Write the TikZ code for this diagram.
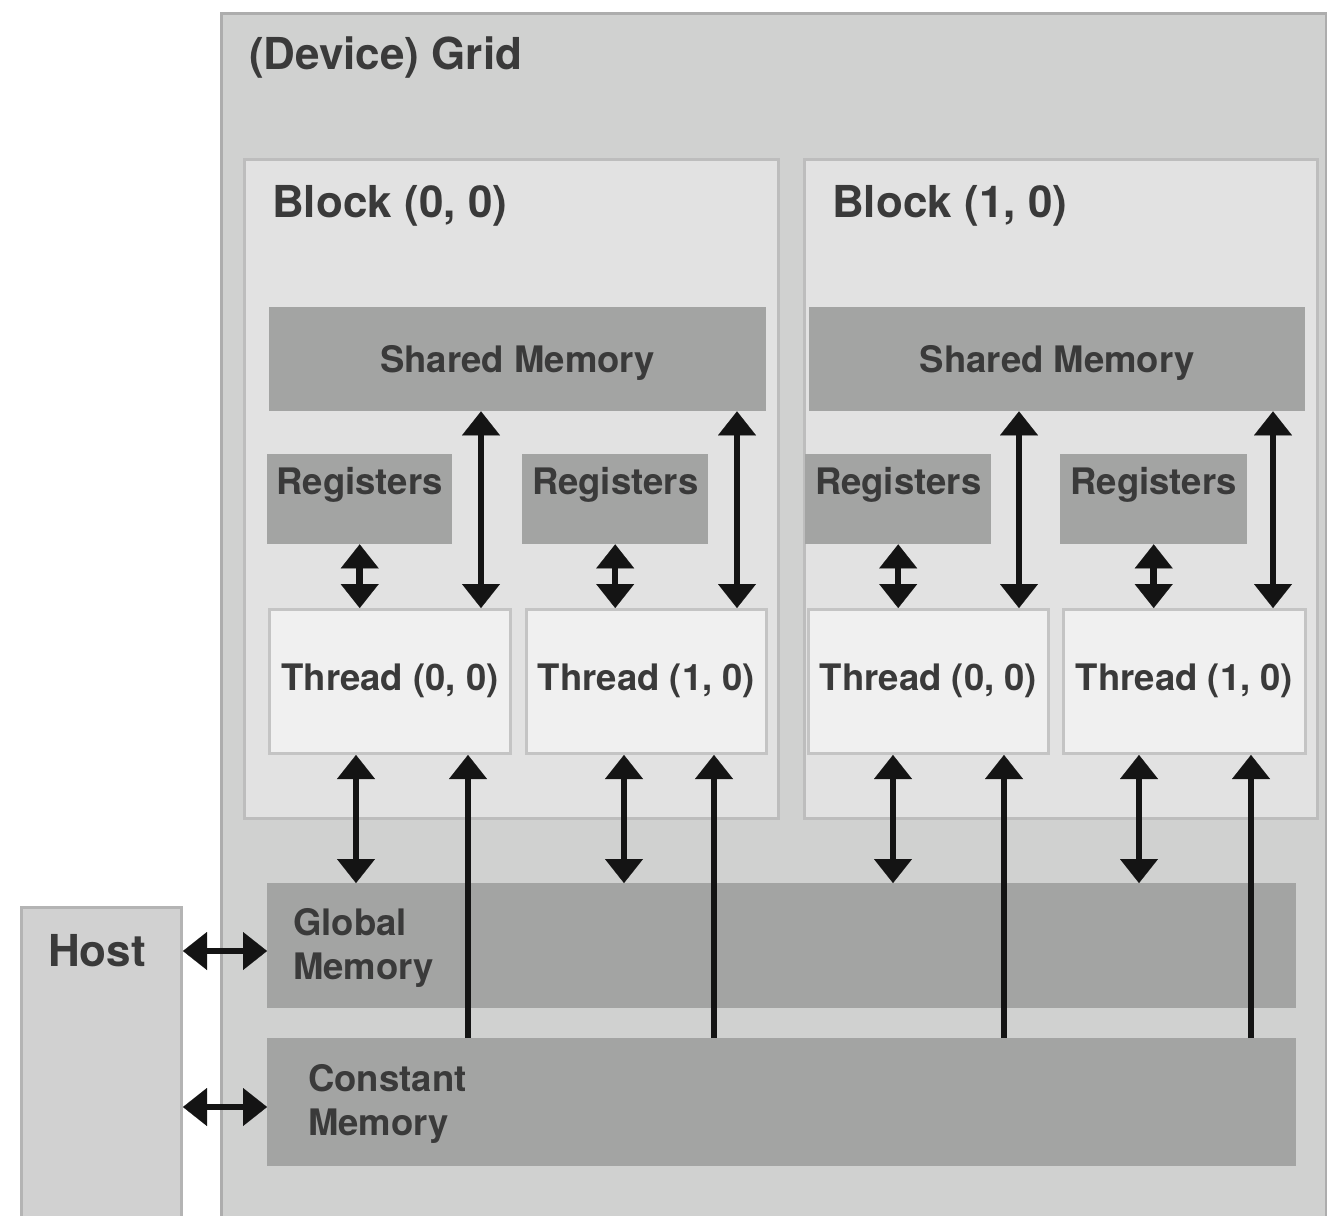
\documentclass[tikz,border=0pt]{standalone}
\usepackage{fontspec}
\setmainfont{TeX Gyre Heros}
\usetikzlibrary{arrows.meta,calc}
\definecolor{gridfill}{HTML}{D0D1D0}
\definecolor{gridline}{HTML}{ADADAD}
\definecolor{blockfill}{HTML}{E2E2E2}
\definecolor{blockline}{HTML}{BDBDBD}
\definecolor{memfill}{HTML}{A3A4A3}
\definecolor{thrfill}{HTML}{F0F0F0}
\definecolor{thrline}{HTML}{C4C4C4}
\definecolor{hostfill}{HTML}{D1D1D1}
\definecolor{hostline}{HTML}{B4B4B4}
\definecolor{txt}{HTML}{3A3A3A}
\definecolor{arrc}{HTML}{141414}
\begin{document}
\begin{tikzpicture}[x=1pt,y=-1pt,
  box/.style={rectangle, inner sep=0pt, anchor=north west},
  gridbox/.style={box, fill=gridfill, draw=gridline, line width=3pt},
  blockbox/.style={box, fill=blockfill, draw=blockline, line width=3pt},
  membox/.style={box, fill=memfill},
  thrbox/.style={box, fill=thrfill, draw=thrline, line width=3pt},
  hostbox/.style={box, fill=hostfill, draw=hostline, line width=3pt},
  big/.style={text=txt, inner sep=0pt, font=\fontsize{44}{53}\selectfont\bfseries},
  mid/.style={text=txt, inner sep=0pt, font=\fontsize{36.5}{45}\selectfont\bfseries},
  tipk/.style={Triangle[length=24pt,width=38pt,line width=0.1pt]},
  dbl/.style={draw=arrc, line width=6.5pt, {Triangle[length=24pt,width=38pt,line width=0.1pt]}-{Triangle[length=24pt,width=38pt,line width=0.1pt]}},
  sgl/.style={draw=arrc, line width=6.5pt, -{Triangle[length=24pt,width=38pt,line width=0.1pt]}}
]
\useasboundingbox (0,0) rectangle (1327,1215);
\fill[white] (0,0) rectangle (1327,1215);

% Grid and host
\node[gridbox, minimum width=1105pt, minimum height=1240pt] (grid) at (220,12) {};
\node[big, anchor=base west] (gridlbl) at (249,70) {(Device) Grid};
\node[hostbox, minimum width=160pt, minimum height=340pt] (host) at (20,906) {};
\node[big, anchor=base west] (hostlbl) at (48,966) {Host};

% Blocks
\node[blockbox, minimum width=534pt, minimum height=659pt] (blk0) at (243,158) {};
\node[blockbox, minimum width=513pt, minimum height=659pt] (blk1) at (803,158) {};
\node[big, anchor=base west] (blk0lbl) at (272,217) {Block (0, 0)};
\node[big, anchor=base west] (blk1lbl) at (832,217) {Block (1, 0)};

% Shared memory
\node[membox, minimum width=497pt, minimum height=104pt, mid] (sh0) at (269,307) {};
\node[membox, minimum width=496pt, minimum height=104pt, mid] (sh1) at (809,307) {};
\node[mid, anchor=base] (sh0lbl) at ($(sh0.north)+(0,65)$) {Shared Memory};
\node[mid, anchor=base] (sh1lbl) at ($(sh1.north)+(0,65)$) {Shared Memory};

% Registers
\node[membox, minimum width=185pt, minimum height=90pt] (reg00) at (267,454) {};
\node[membox, minimum width=186pt, minimum height=90pt] (reg10) at (522,454) {};
\node[membox, minimum width=186pt, minimum height=90pt] (reg01) at (805,454) {};
\node[membox, minimum width=187pt, minimum height=90pt] (reg11) at (1060,454) {};
\foreach \r in {reg00,reg10,reg01,reg11}{
  \node[mid, anchor=base] (\r lbl) at ($(\r.north)+(0,40)$) {Registers};
}

% Threads
\node[thrbox, minimum width=241pt, minimum height=144pt] (thr00) at (268,608) {};
\node[thrbox, minimum width=240pt, minimum height=144pt] (thr10) at (525,608) {};
\node[thrbox, minimum width=240pt, minimum height=144pt] (thr01) at (807,608) {};
\node[thrbox, minimum width=242pt, minimum height=144pt] (thr11) at (1062,608) {};
\node[mid, anchor=base] (thr00lbl) at ($(thr00.north)+(0,82)$) {Thread (0, 0)};
\node[mid, anchor=base] (thr10lbl) at ($(thr10.north)+(0,82)$) {Thread (1, 0)};
\node[mid, anchor=base] (thr01lbl) at ($(thr01.north)+(0,82)$) {Thread (0, 0)};
\node[mid, anchor=base] (thr11lbl) at ($(thr11.north)+(0,82)$) {Thread (1, 0)};

% Global and constant memory
\node[membox, minimum width=1029pt, minimum height=125pt] (glob) at (267,883) {};
\node[membox, minimum width=1029pt, minimum height=128pt] (const) at (267,1038) {};
\node[mid, anchor=base west, align=left] (globlbl1) at (293,935) {Global};
\node[mid, anchor=base west] (globlbl2) at (293,979) {Memory};
\node[mid, anchor=base west] (constlbl1) at (308,1091) {Constant};
\node[mid, anchor=base west] (constlbl2) at (308,1135) {Memory};

% Arrow columns
\coordinate (s00) at (481,0);
\coordinate (s10) at (737,0);
\coordinate (s01) at (1019,0);
\coordinate (s11) at (1273,0);
\coordinate (g00) at (356,0);
\coordinate (g10) at (624,0);
\coordinate (g01) at (893,0);
\coordinate (g11) at (1139,0);
\coordinate (c00) at (468,0);
\coordinate (c10) at (714,0);
\coordinate (c01) at (1004,0);
\coordinate (c11) at (1251,0);

% Registers <-> thread
\foreach \r/\t in {reg00/thr00,reg10/thr10,reg01/thr01,reg11/thr11}{
  \draw[dbl] (\r.south) -- (\r.south |- \t.north);
}
% Shared <-> thread
\draw[dbl] (s00 |- sh0.south) -- (s00 |- thr00.north);
\draw[dbl] (s10 |- sh0.south) -- (s10 |- thr10.north);
\draw[dbl] (s01 |- sh1.south) -- (s01 |- thr01.north);
\draw[dbl] (s11 |- sh1.south) -- (s11 |- thr11.north);
% Thread <-> global
\draw[dbl] (g00 |- thr00.south) -- (g00 |- glob.north);
\draw[dbl] (g10 |- thr10.south) -- (g10 |- glob.north);
\draw[dbl] (g01 |- thr01.south) -- (g01 |- glob.north);
\draw[dbl] (g11 |- thr11.south) -- (g11 |- glob.north);
% Constant -> thread
\draw[sgl] (c00 |- const.north) -- (c00 |- thr00.south);
\draw[sgl] (c10 |- const.north) -- (c10 |- thr10.south);
\draw[sgl] (c01 |- const.north) -- (c01 |- thr01.south);
\draw[sgl] (c11 |- const.north) -- (c11 |- thr11.south);
% Host <-> memories
\coordinate (h1) at (0,951);
\coordinate (h2) at (0,1107);
\draw[dbl] (host.east |- h1) -- (glob.west |- h1);
\draw[dbl] (host.east |- h2) -- (const.west |- h2);
\end{tikzpicture}
\end{document}
